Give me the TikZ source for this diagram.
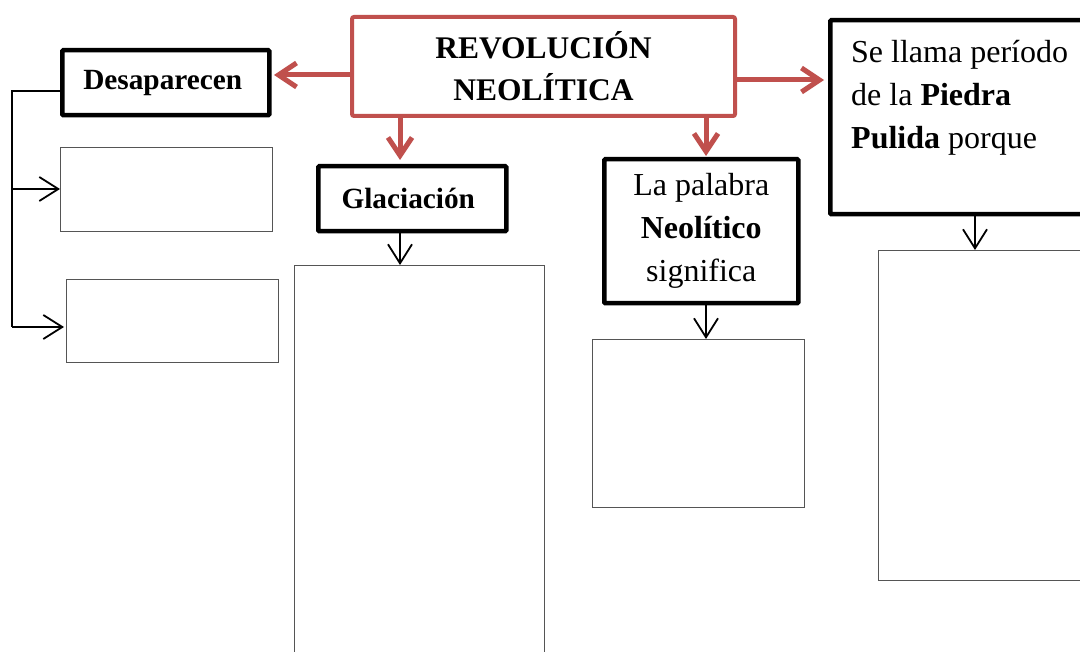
\documentclass[tikz,border=0pt]{standalone}
\usepackage{fontspec}
\setmainfont{Liberation Serif}
\usetikzlibrary{arrows.meta}
\definecolor{redbox}{RGB}{192,80,77}
\definecolor{thingray}{RGB}{85,85,85}
\tikzset{
  big/.style={font=\fontsize{32}{43}\selectfont},
  bigb/.style={font=\fontsize{31.5}{42}\selectfont},
  mid/.style={font=\fontsize{29.3}{40}\selectfont},
  redframe/.style={draw=redbox, line width=4pt, rounded corners=2pt, fill=white, inner sep=0pt, anchor=north west},
  blackframe/.style={draw=black, line width=4.5pt, fill=white, inner sep=0pt, anchor=north west, rounded corners=1pt},
  thinframe/.style={draw=thingray, line width=1.2pt, fill=white, inner sep=0pt, anchor=north west},
  redarrow/.style={draw=redbox, line width=5pt, -{Straight Barb[length=18pt,width=24pt,line width=5pt]}},
  blackarrow/.style={draw=black, line width=1.8pt, -{Straight Barb[length=19pt,width=24pt,line width=1.8pt]}},
  conn/.style={draw=black, line width=1.8pt}
}
\begin{document}
\begin{tikzpicture}[x=1pt,y=-1pt]
\useasboundingbox (0,0) rectangle (1080,652);
\clip (0,0) rectangle (1080,652);
\fill[white] (0,0) rectangle (1080,652);

% main box
\node[redframe, bigb, minimum width=383pt, minimum height=99pt, align=center] (c) at (350,15)
  {\textbf{REVOLUCIÓN}\\\textbf{NEOLÍTICA}};

% black frames
\node[blackframe, mid, minimum width=207pt, minimum height=65pt] (des) at (60,48) {\textbf{Desaparecen}\hspace*{6pt}};
\node[blackframe, mid, minimum width=188pt, minimum height=65pt] (gla) at (316,164) {\textbf{Glaciación}\hspace*{8pt}};
\node[blackframe, big, minimum width=194pt, minimum height=144pt, align=center] (pal) at (602,157)
  {La palabra\\\textbf{Neolítico}\\significa};
\node[blackframe, minimum width=262pt, minimum height=194pt] (pul) at (828,18) {};
\node[big, anchor=north west, inner sep=0pt, align=left, text depth=0pt] (pultext) at (851,40)
  {Se llama período\\de la \textbf{Piedra}\\\textbf{Pulida} porque};

% thin empty boxes
\node[thinframe, minimum width=212pt, minimum height=84pt] (b1) at (60,147) {};
\node[thinframe, minimum width=212pt, minimum height=83pt] (b2) at (66,279) {};
\node[thinframe, minimum width=250pt, minimum height=400pt] (b3) at (294,265) {};
\node[thinframe, minimum width=212pt, minimum height=168pt] (b4) at (592,339) {};
\node[thinframe, minimum width=220pt, minimum height=330pt] (b5) at (878,250) {};

% red arrows
\coordinate (tl) at (274,75);
\coordinate (tr) at (824,80);
\coordinate (tg) at (400,160);
\coordinate (tp) at (706,156);
\draw[redarrow] (c.west |- tl) -- (tl);
\draw[redarrow] (c.east |- tr) -- (tr);
\draw[redarrow] (c.south -| tg) -- (tg);
\draw[redarrow] (c.south -| tp) -- (tp);

% black arrows
\draw[blackarrow] (gla.south -| 400,0) -- (b3.north -| 400,0);
\draw[blackarrow] (pal.south -| 706,0) -- (b4.north -| 706,0);
\draw[blackarrow] (pul.south -| 975,0) -- (b5.north -| 975,0);

% left connector
\coordinate (k0) at (12,91);
\coordinate (k1) at (12,189);
\coordinate (k2) at (12,327);
\draw[conn] (des.west |- k0) -- (k0) -- (k2);
\draw[blackarrow] (k1) -- (b1.west |- k1);
\draw[blackarrow] (k2) -- ([xshift=-2pt]b2.west |- k2);
\end{tikzpicture}
\end{document}
